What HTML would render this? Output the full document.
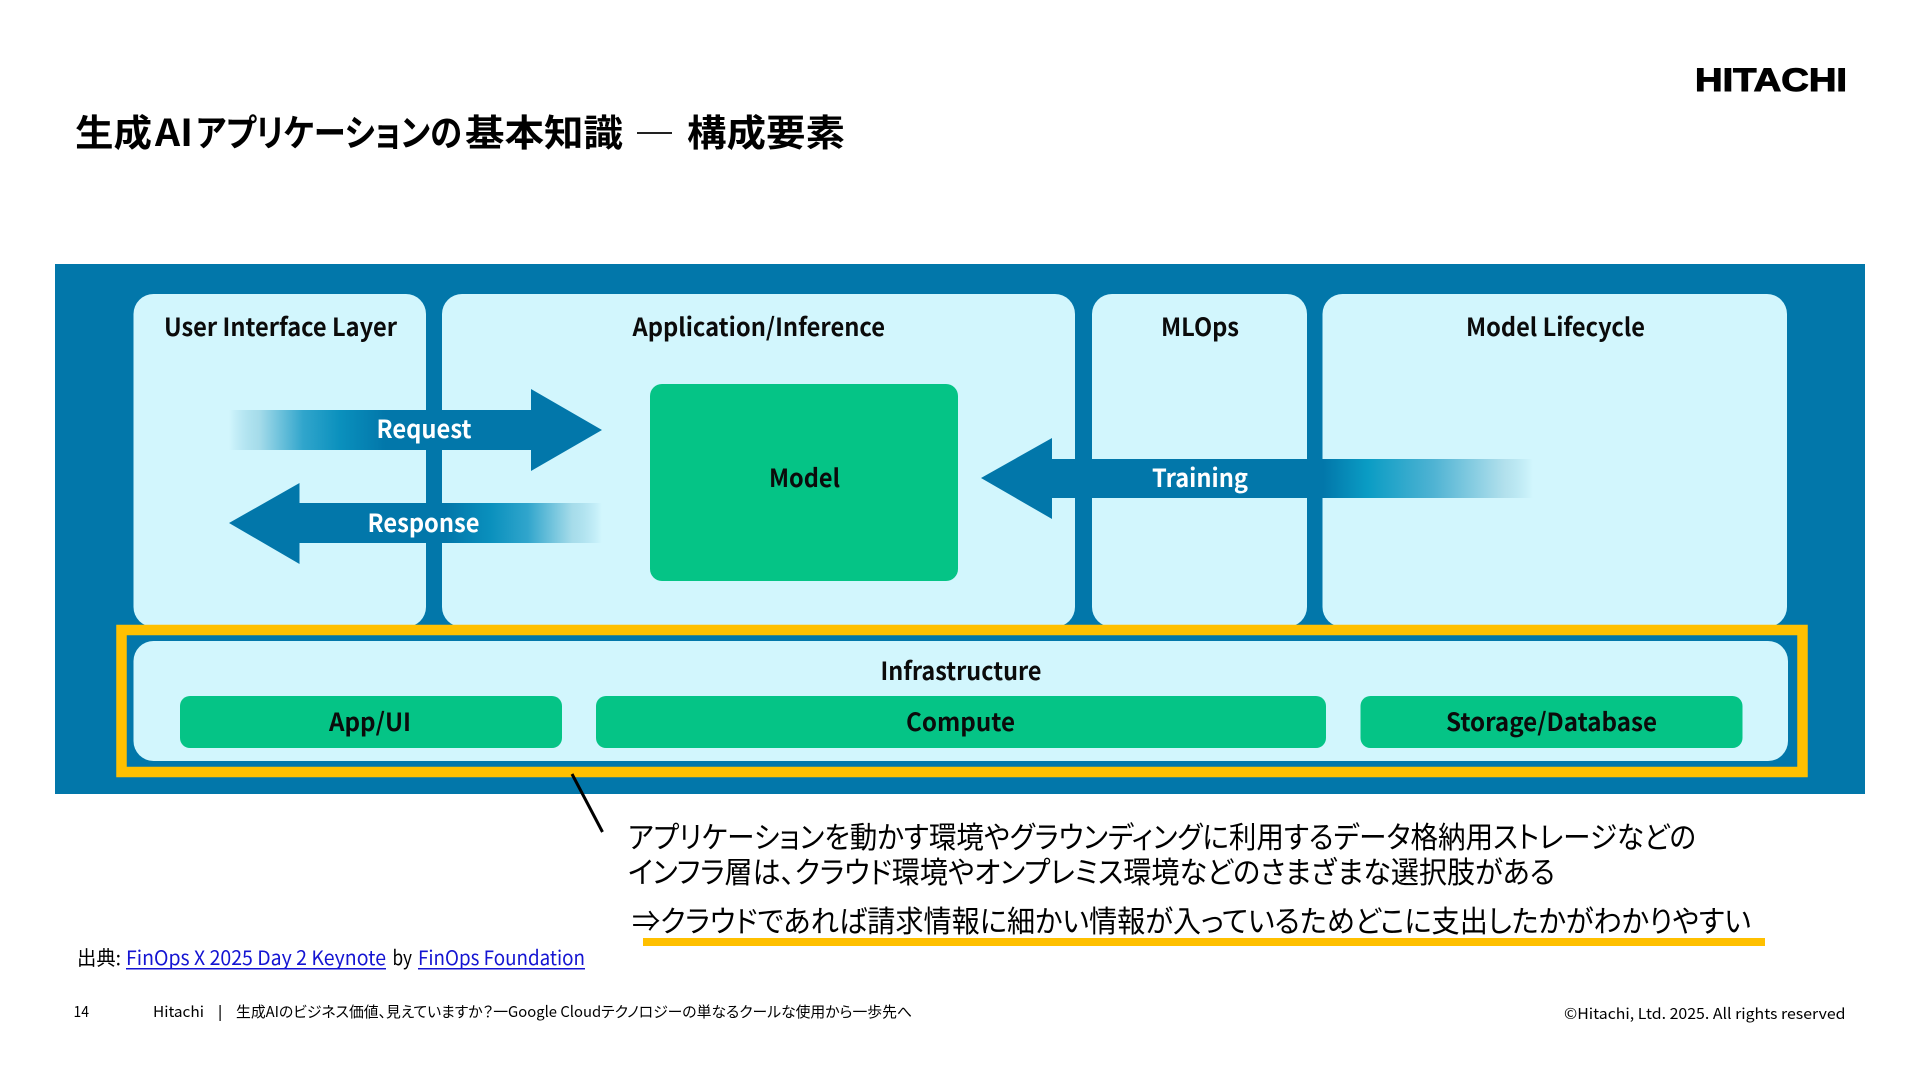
<!DOCTYPE html>
<html lang="ja">
<head>
<meta charset="utf-8">
<title>生成AIアプリケーションの基本知識</title>
<style>
html,body{margin:0;padding:0;background:#fff;width:1920px;height:1080px;overflow:hidden}
svg{display:block}
text{font-family:"Noto Sans CJK JP","Liberation Sans",sans-serif;fill:#000}
.l{font-size:25px;font-weight:700;fill:#0b0b0b}
.w{font-size:25px;font-weight:700;fill:#fff}
.a{font-size:30px;font-weight:400;font-feature-settings:"palt"}
.f{font-size:15px;font-weight:400;font-feature-settings:"palt"}
.s{font-size:20px;font-weight:400}
.t{font-size:37px;font-weight:700;font-feature-settings:"palt"}
.b{fill:#1414d2}
</style>
</head>
<body>
<svg width="1920" height="1080" viewBox="0 0 1920 1080" xmlns="http://www.w3.org/2000/svg">
<defs>
<linearGradient id="req" gradientUnits="userSpaceOnUse" x1="229" y1="0" x2="601" y2="0">
<stop offset="0" stop-color="#8fd0e4" stop-opacity="0"/>
<stop offset="0.08" stop-color="#a6dcea"/>
<stop offset="0.2" stop-color="#30a5cc"/>
<stop offset="0.3" stop-color="#0a90bd"/>
<stop offset="0.42" stop-color="#0277aa"/>
<stop offset="1" stop-color="#0277aa"/>
</linearGradient>
<linearGradient id="res" gradientUnits="userSpaceOnUse" x1="230" y1="0" x2="602" y2="0">
<stop offset="0" stop-color="#0277aa"/>
<stop offset="0.58" stop-color="#0277aa"/>
<stop offset="0.7" stop-color="#0a90bd"/>
<stop offset="0.8" stop-color="#30a5cc"/>
<stop offset="0.92" stop-color="#a6dcea"/>
<stop offset="1" stop-color="#8fd0e4" stop-opacity="0"/>
</linearGradient>
<linearGradient id="tra" gradientUnits="userSpaceOnUse" x1="981" y1="0" x2="1533" y2="0">
<stop offset="0" stop-color="#0277aa"/>
<stop offset="0.62" stop-color="#0277aa"/>
<stop offset="0.7" stop-color="#0a9cc4"/>
<stop offset="0.82" stop-color="#4fb3d3"/>
<stop offset="0.95" stop-color="#b3e1ed"/>
<stop offset="1" stop-color="#a6dcea" stop-opacity="0"/>
</linearGradient>
</defs>

<!-- title + logo -->
<text class="t" x="75" y="146" textLength="77" lengthAdjust="spacingAndGlyphs">生成</text>
<text class="t" x="155" y="146" textLength="38" lengthAdjust="spacingAndGlyphs">AI</text>
<text class="t" x="196" y="146" textLength="266" lengthAdjust="spacingAndGlyphs">アプリケーションの</text>
<text class="t" x="465" y="146" textLength="158" lengthAdjust="spacingAndGlyphs">基本知識</text>
<rect x="637" y="132" width="35" height="2" fill="#222"/>
<text class="t" x="687" y="146" textLength="158" lengthAdjust="spacingAndGlyphs">構成要素</text>
<text x="1695" y="91" style="font-family:'Liberation Sans',sans-serif;font-size:32px;font-weight:700;stroke:#000;stroke-width:1" textLength="152" lengthAdjust="spacingAndGlyphs">HITACHI</text>

<!-- background -->
<rect x="55" y="264" width="1810" height="530" fill="#0277aa"/>

<!-- panels -->
<rect x="133.5" y="294" width="292.5" height="333" rx="20" fill="#d2f6fd"/>
<rect x="442" y="294" width="633" height="333" rx="20" fill="#d2f6fd"/>
<rect x="1092" y="294" width="215" height="333" rx="20" fill="#d2f6fd"/>
<rect x="1322.5" y="294" width="464.5" height="333" rx="20" fill="#d2f6fd"/>

<!-- infra -->
<rect x="121.5" y="630" width="1681" height="142" fill="#0277aa" stroke="#ffc000" stroke-width="10.5"/>
<rect x="133.5" y="641" width="1654.5" height="120" rx="20" fill="#d2f6fd"/>

<!-- green boxes -->
<rect x="650" y="384" width="308" height="197" rx="12" fill="#05c486"/>
<rect x="180" y="696" width="382" height="52" rx="10" fill="#05c486"/>
<rect x="596" y="696" width="730" height="52" rx="10" fill="#05c486"/>
<rect x="1360.5" y="696" width="382" height="52" rx="10" fill="#05c486"/>

<!-- arrows -->
<polygon points="229,410 531,410 531,389 602,430 531,471 531,450 229,450" fill="url(#req)"/>
<polygon points="229,523 299.5,483 299.5,503 602,503 602,543 299.5,543 299.5,564" fill="url(#res)"/>
<polygon points="981,478 1052,438 1052,459 1533,459 1533,498 1052,498 1052,519" fill="url(#tra)"/>

<!-- diagram labels -->
<text class="l" x="164" y="336" textLength="233" lengthAdjust="spacingAndGlyphs">User Interface Layer</text>
<text class="l" x="632.5" y="336" textLength="252.5" lengthAdjust="spacingAndGlyphs">Application/Inference</text>
<text class="l" x="1161" y="336" textLength="78" lengthAdjust="spacingAndGlyphs">MLOps</text>
<text class="l" x="1466" y="336" textLength="179" lengthAdjust="spacingAndGlyphs">Model Lifecycle</text>
<text class="w" x="376.5" y="438" textLength="95" lengthAdjust="spacingAndGlyphs">Request</text>
<text class="w" x="367.5" y="532" textLength="112" lengthAdjust="spacingAndGlyphs">Response</text>
<text class="l" x="769" y="487" textLength="71" lengthAdjust="spacingAndGlyphs">Model</text>
<text class="w" x="1152" y="487" textLength="96" lengthAdjust="spacingAndGlyphs">Training</text>
<text class="l" x="880.5" y="680" textLength="161" lengthAdjust="spacingAndGlyphs">Infrastructure</text>
<text class="l" x="329" y="731" textLength="82" lengthAdjust="spacingAndGlyphs">App/UI</text>
<text class="l" x="906" y="731" textLength="109" lengthAdjust="spacingAndGlyphs">Compute</text>
<text class="l" x="1446" y="731" textLength="211" lengthAdjust="spacingAndGlyphs">Storage/Database</text>

<!-- callout -->
<line x1="572" y1="774" x2="602.5" y2="832" stroke="#000" stroke-width="3"/>
<text class="a" x="628" y="848" textLength="1068" lengthAdjust="spacingAndGlyphs">アプリケーションを動かす環境やグラウンディングに利用するデータ格納用ストレージなどの</text>
<text class="a" x="628" y="883" textLength="927" lengthAdjust="spacingAndGlyphs">インフラ層は、クラウド環境やオンプレミス環境などのさまざまな選択肢がある</text>
<text class="a" x="632" y="932" textLength="1119" lengthAdjust="spacingAndGlyphs">⇒クラウドであれば請求情報に細かい情報が入っているためどこに支出したかがわかりやすい</text>
<rect x="643" y="938" width="1122" height="8" fill="#ffc000"/>

<!-- source -->
<text class="s" x="77" y="965" textLength="44" lengthAdjust="spacingAndGlyphs">出典:</text>
<text class="s b" x="126" y="965" textLength="260" lengthAdjust="spacingAndGlyphs">FinOps X 2025 Day 2 Keynote</text>
<rect x="126" y="968" width="260" height="1.5" fill="#1414d2"/>
<text class="s" x="392.5" y="965" textLength="19.5" lengthAdjust="spacingAndGlyphs">by</text>
<text class="s b" x="418" y="965" textLength="167" lengthAdjust="spacingAndGlyphs">FinOps Foundation</text>
<rect x="418" y="968" width="167" height="1.5" fill="#1414d2"/>

<!-- footer -->
<text class="f" x="73.5" y="1017" textLength="15.5" lengthAdjust="spacingAndGlyphs">14</text>
<text class="f" x="153" y="1017" textLength="51" lengthAdjust="spacingAndGlyphs">Hitachi</text>
<rect x="219.5" y="1005" width="1.2" height="16" fill="#000"/>
<text class="f" x="236" y="1017" textLength="676" lengthAdjust="spacingAndGlyphs">生成AIのビジネス価値、見えていますか？一Google Cloudテクノロジーの単なるクールな使用から一歩先へ</text>
<text class="f" x="1564" y="1019" textLength="281.5" lengthAdjust="spacingAndGlyphs">©Hitachi, Ltd. 2025. All rights reserved</text>
</svg>
</body>
</html>
